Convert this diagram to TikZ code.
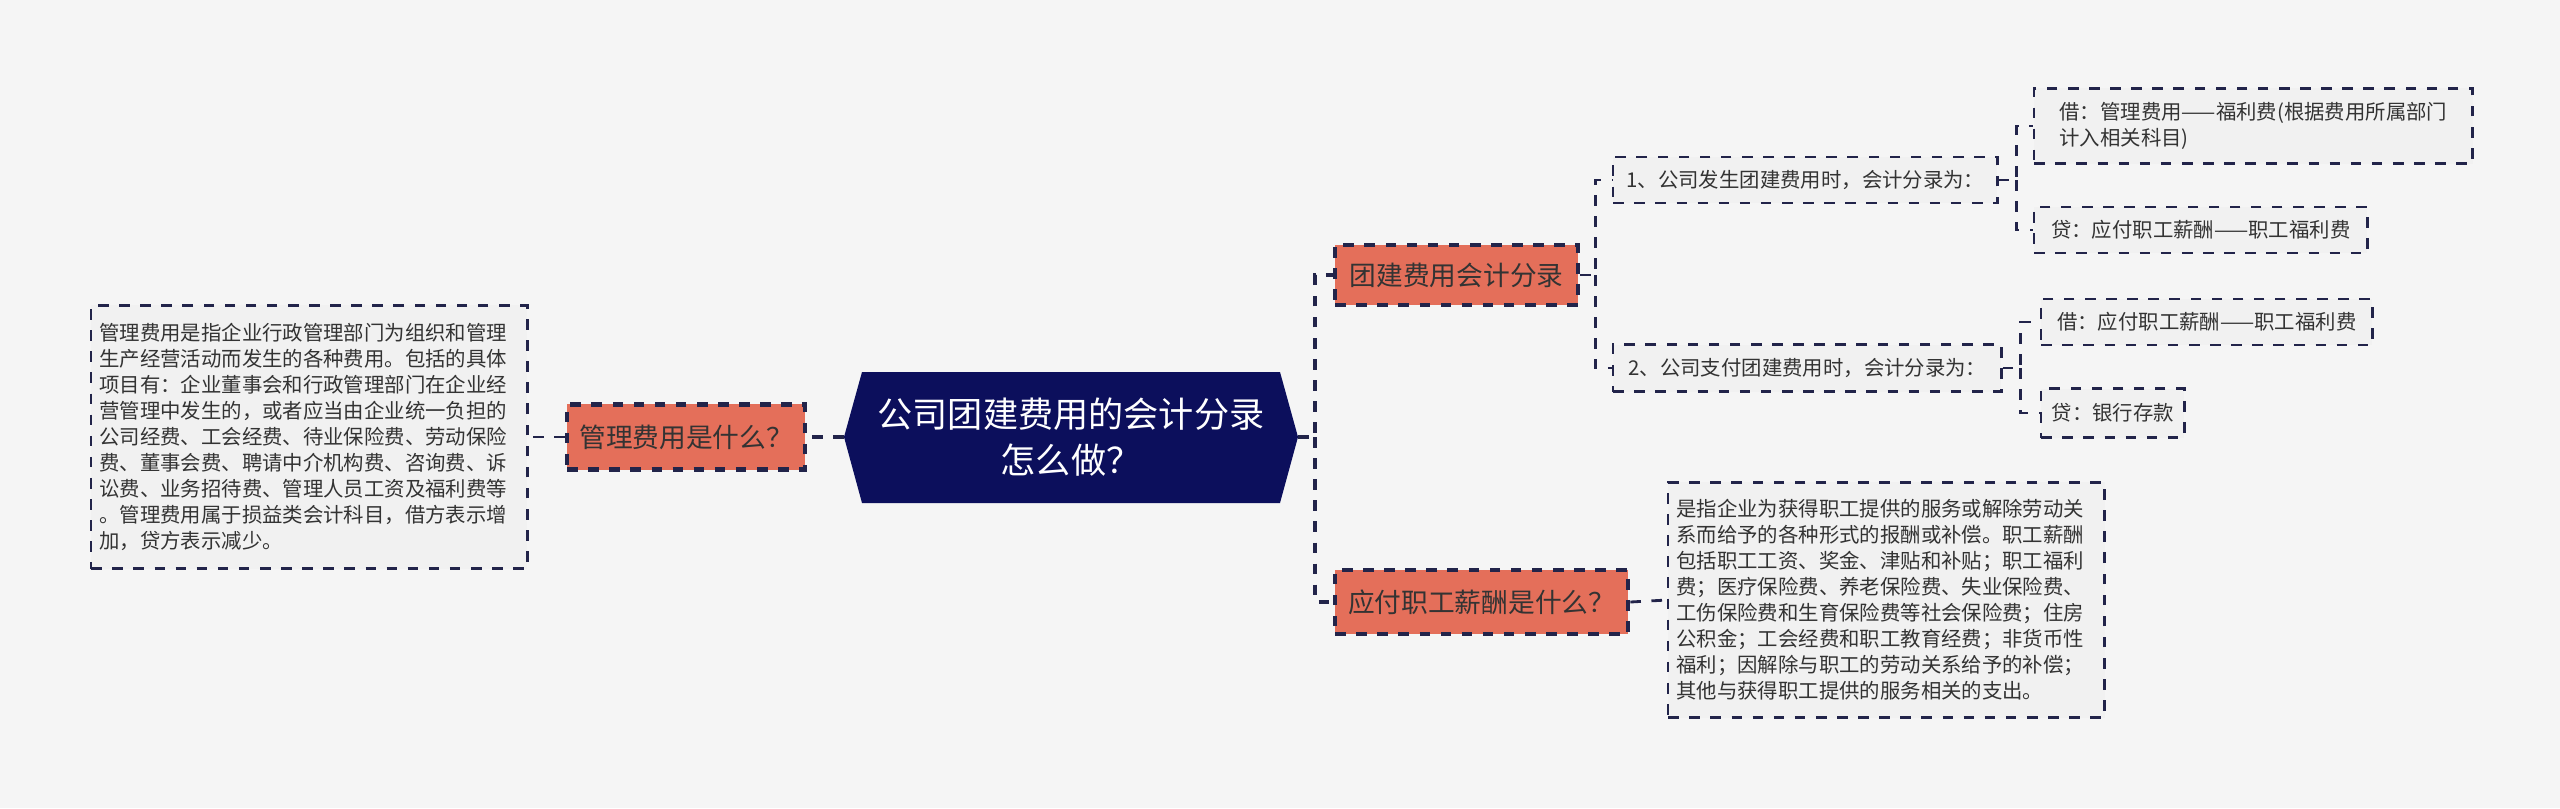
\documentclass[tikz,border=0pt]{standalone}
\usepackage{fontspec}
\setmainfont{Noto Sans CJK SC}
\usetikzlibrary{positioning}
\definecolor{bgcol}{HTML}{F5F5F5}
\definecolor{navy}{HTML}{0C0F5C}
\definecolor{salmon}{HTML}{E46F5A}
\definecolor{dashcol}{HTML}{22244A}
\definecolor{boxfill}{HTML}{F1F1F1}
\definecolor{txtcol}{HTML}{333333}
\tikzset{
  topic/.style={draw=dashcol,dashed,line width=1.2pt,fill=salmon,text=txtcol,font=\fontsize{7.6pt}{9pt}\selectfont,inner sep=0pt,anchor=west},
  leaf/.style={draw=dashcol,dashed,line width=0.7pt,fill=boxfill,text=txtcol,font=\fontsize{5.8pt}{7.4pt}\selectfont,align=left,inner sep=0pt,anchor=west},
  conn/.style={draw=dashcol,dashed,line width=0.8pt}
}
\begin{document}
\begin{tikzpicture}[x=0.01cm,y=-0.01cm]

\fill[bgcol] (0,0) rectangle (2560,808);
\useasboundingbox (0,0) rectangle (2560,808);

% central topic
\fill[navy] (844,437) -- (862,372) -- (1280,372) -- (1298,437) -- (1280,503) -- (862,503) -- cycle;
\node[text=white,font=\fontsize{10pt}{13pt}\selectfont,align=center] (root) at (1071,437) {公司团建费用的会计分录\\怎么做？};

% left branch
\node[topic,minimum width=2.38cm,minimum height=0.65cm] (mgmt) at (565,437) {管理费用是什么？};
\node[leaf,text width=4.2cm,minimum height=2.63cm,inner xsep=0.08cm] (mgmtText) at (90,437)
  {管理费用是指企业行政管理部门为组织和管理\\生产经营活动而发生的各种费用。包括的具体\\项目有：企业董事会和行政管理部门在企业经\\营管理中发生的，或者应当由企业统一负担的\\公司经费、工会经费、待业保险费、劳动保险\\费、董事会费、聘请中介机构费、咨询费、诉\\讼费、业务招待费、管理人员工资及福利费等\\。管理费用属于损益类会计科目，借方表示增\\加，贷方表示减少。};

% right branches
\node[topic,minimum width=2.43cm,minimum height=0.6cm] (tuanjian) at (1333,275) {团建费用会计分录};
\node[topic,minimum width=2.93cm,minimum height=0.64cm] (salary) at (1333,602) {应付职工薪酬是什么？};

\node[leaf,minimum width=3.84cm,minimum height=0.46cm,inner xsep=0.1cm] (step1) at (1612,180) {1、公司发生团建费用时，会计分录为：};
\node[leaf,minimum width=3.88cm,minimum height=0.47cm,inner xsep=0.1cm] (step2) at (1612,368) {2、公司支付团建费用时，会计分录为：};

\node[leaf,minimum width=4.38cm,minimum height=0.75cm,inner xsep=0.1cm] (debit1) at (2033,126) {借：管理费用——福利费(根据费用所属部门\\计入相关科目)};
\node[leaf,minimum width=3.33cm,minimum height=0.46cm,inner xsep=0.1cm] (credit1) at (2033,230) {贷：应付职工薪酬——职工福利费};
\node[leaf,minimum width=3.31cm,minimum height=0.46cm,inner xsep=0.1cm] (debit2) at (2040,322) {借：应付职工薪酬——职工福利费};
\node[leaf,minimum width=1.43cm,minimum height=0.49cm,inner xsep=0.1cm] (credit2) at (2040,413) {贷：银行存款};

\node[leaf,text width=4.2cm,minimum height=2.35cm,inner xsep=0.08cm] (salaryText) at (1667,600)
  {是指企业为获得职工提供的服务或解除劳动关\\系而给予的各种形式的报酬或补偿。职工薪酬\\包括职工工资、奖金、津贴和补贴；职工福利\\费；医疗保险费、养老保险费、失业保险费、\\工伤保险费和生育保险费等社会保险费；住房\\公积金；工会经费和职工教育经费；非货币性\\福利；因解除与职工的劳动关系给予的补偿；\\其他与获得职工提供的服务相关的支出。};

% connectors
\draw[conn,line width=1.2pt] (root.west -| 844,437) -- (mgmt.east);
\draw[conn] (mgmt.west) -- (mgmtText.east);
\draw[conn,line width=1.2pt] (1298,437) -- ++(17,0) coordinate (fork) |- (tuanjian.west);
\draw[conn,line width=1.2pt] (fork) |- (salary.west);
\draw[conn] (tuanjian.east) -- ++(15,0) coordinate (fork1) |- (step1.west);
\draw[conn] (fork1) |- (step2.west);
\draw[conn] (step1.east) -- ++(18,0) coordinate (fork2) |- (debit1.west);
\draw[conn] (fork2) |- (credit1.west);
\draw[conn] (step2.east) -- ++(18,0) coordinate (fork3) |- (debit2.west);
\draw[conn] (fork3) |- (credit2.west);
\draw[conn] (salary.east) -- (salaryText.west);

\end{tikzpicture}
\end{document}
